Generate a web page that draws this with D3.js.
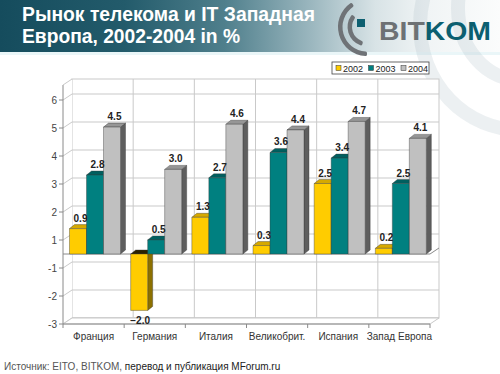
<!DOCTYPE html>
<html><head><meta charset="utf-8">
<script src="https://cdn.jsdelivr.net/npm/d3@7"></script>
<style>html,body{margin:0;padding:0;background:#fff;}svg{display:block;font-family:"Liberation Sans",Arial,sans-serif;}</style>
</head><body>
<script>
const categories = ["Франция","Германия","Италия","Великобрит.","Испания","Запад Европа"];
const seriesNames = ["2002","2003","2004"];
const values2002 = [0.9,-2.0,1.3,0.3,2.5,0.2];
const values2003 = [2.8,0.5,2.7,3.6,3.4,2.5];
const values2004 = [4.5,3.0,4.6,4.4,4.7,4.1];
const tickLabels = ["6","5","4","3","2","1","-1","-2","-3"];
const titleLines = ["Рынок телекома и IT Западная","Европа, 2002-2004 in %"];
const sourceParts = ["Источник: EITO, BITKOM, ","перевод и публикация MForum.ru"];

const W=500,H=374;
const svg=d3.select("body").append("svg").attr("width",W).attr("height",H);
const defs=svg.append("defs");
const g1=defs.append("linearGradient").attr("id","ban").attr("x1","0").attr("x2","1").attr("y1","0").attr("y2","0");
[["0%","#154c5d"],["25%","#235b6b"],["45%","#4f7f8c"],["62%","#9ab6be"],["75%","#d8e3e6"],["85%","#f0f4f5"],["100%","#fbfcfc"]]
  .forEach(s=>g1.append("stop").attr("offset",s[0]).attr("stop-color",s[1]));

svg.append("rect").attr("width",W).attr("height",H).attr("fill","#fff");
svg.append("rect").attr("x",0).attr("y",0).attr("width",W).attr("height",52).attr("fill","url(#ban)");
svg.append("rect").attr("x",0).attr("y",52).attr("width",W).attr("height",3).attr("fill","#eaf6f8");

// decorative arcs
[[520,25,100,105],[520,8,62,72]].forEach(a=>{
  svg.append("ellipse").attr("cx",a[0]).attr("cy",a[1]).attr("rx",a[2]).attr("ry",a[3])
    .attr("fill","none").attr("stroke","#9fb5bd").attr("stroke-opacity",0.2).attr("stroke-width",14);
});

// title
svg.selectAll("text.title").data(titleLines).join("text").attr("class","title")
  .attr("x",22).attr("y",(d,i)=>21+i*22).attr("fill","#fff").attr("font-weight","bold")
  .attr("font-size",20).attr("textLength",(d,i)=>i===0?293:218).attr("lengthAdjust","spacingAndGlyphs").text(d=>d);

// logo
const deg=Math.PI/180;
const lg=svg.append("g").attr("transform","translate(367,27)");
const arcG=d3.arc().cornerRadius(1.5);
lg.append("path").attr("d",arcG({innerRadius:24.5,outerRadius:29,startAngle:-180*deg,endAngle:-32*deg})).attr("fill","#6f7377");
lg.append("path").attr("d",arcG({innerRadius:15,outerRadius:19.5,startAngle:-165*deg,endAngle:-50*deg})).attr("fill","#6f7377");
lg.append("rect").attr("x",-10).attr("y",-8).attr("width",8).attr("height",8).attr("fill","#0d5f70");
const bt=svg.append("text").attr("x",379).attr("y",40).attr("font-size",25).attr("font-weight","bold")
  .attr("textLength",112).attr("lengthAdjust","spacingAndGlyphs");
bt.append("tspan").attr("fill","#6d7174").text("BIT");
bt.append("tspan").attr("fill","#0c5f70").text("KOM");

// geometry
const X0=63,X1=430,DX=9,DY=-6;
const x0=d3.scaleBand().domain(categories).range([X0,X1]).paddingInner(0).paddingOuter(0);
const x1=d3.scaleBand().domain(seriesNames).range([6.5,6.5+51]);
const y=d3.scaleLinear().domain([-3,6]).range([254+3*28.2,254-6*28.2]);
const ty=d3.scalePoint().domain(tickLabels).range([100,324]);
const gridC="#c9c9c9", axisC="#8a8a8a";

// back wall
svg.append("rect").attr("x",X0+DX).attr("y",85+DY).attr("width",X1-X0).attr("height",324-85)
  .attr("fill","#fff").attr("stroke",gridC).attr("stroke-width",1);
svg.append("path").attr("d",`M${X0},85 L${X0+DX},${85+DY} L${X0+DX},${324+DY} L${X0},324 Z`).attr("fill","#fff");
tickLabels.forEach(t=>{
  const yy=ty(t);
  svg.append("line").attr("x1",X0+DX).attr("x2",X1+DX).attr("y1",yy+DY).attr("y2",yy+DY).attr("stroke",gridC);
  svg.append("line").attr("x1",X0).attr("x2",X0+DX).attr("y1",yy).attr("y2",yy+DY).attr("stroke",gridC);
});
categories.forEach((c,i)=>{ if(i>0){ const xx=x0(c)+DX;
  svg.append("line").attr("x1",xx).attr("x2",xx).attr("y1",85+DY).attr("y2",324+DY).attr("stroke",gridC);}});
svg.append("path").attr("d",`M${X0},324 L${X1},324 L${X1+DX},${324+DY} L${X0+DX},${324+DY} Z`)
  .attr("fill","#fff").attr("stroke",gridC);
svg.append("line").attr("x1",X0).attr("x2",X1).attr("y1",324).attr("y2",324).attr("stroke",axisC);
[...categories.map(c=>x0(c)),X1].forEach(xx=>{
  svg.append("line").attr("x1",xx).attr("x2",xx).attr("y1",324).attr("y2",328).attr("stroke",axisC);
});
svg.append("line").attr("x1",X0).attr("x2",X0).attr("y1",85).attr("y2",324).attr("stroke",axisC);
svg.append("line").attr("x1",X0).attr("x2",X0+DX).attr("y1",85).attr("y2",85+DY).attr("stroke",gridC);
svg.selectAll("line.tk").data(tickLabels).join("line").attr("class","tk")
  .attr("x1",X0-4).attr("x2",X0).attr("y1",d=>ty(d)).attr("y2",d=>ty(d)).attr("stroke",axisC);
svg.selectAll("text.yl").data(tickLabels).join("text").attr("class","yl")
  .attr("x",X0-6).attr("y",d=>ty(d)+3.5).attr("text-anchor","end").attr("font-size",10).attr("fill","#444").text(d=>d);
svg.append("path").attr("d",`M${X0},${y(0)} L${X1},${y(0)} L${X1+DX},${y(0)+DY}`)
  .attr("fill","none").attr("stroke",axisC);

// bars
const colors=[
  {front:"#ffcc00",top:"#d6a900",side:"#8c7000",under:"#2a2200"},
  {front:"#008080",top:"#005f5f",side:"#004545",under:"#002828"},
  {front:"#c0c0c0",top:"#969696",side:"#5e5e5e",under:"#333"}];
const series=[values2002,values2003,values2004];
const bdx=5,bdy=-4,bw=17;
const bars=[];
categories.forEach((c,ci)=>seriesNames.forEach((s,si)=>bars.push({c,si,v:series[si][ci]})));
const bg=svg.append("g");
bars.forEach(b=>{
  const xl=x0(b.c)+x1(seriesNames[b.si]);
  const xr=xl+bw;
  const col=colors[b.si];
  const yt=Math.min(y(b.v),y(0)), yb=Math.max(y(b.v),y(0));
  const ap=(p,f)=>bg.append("path").attr("d",p).attr("fill",f).attr("stroke","#3a3a3a").attr("stroke-width",0.4).attr("stroke-linejoin","round");
  ap(`M${xr},${yt} L${xr+bdx},${yt+bdy} L${xr+bdx},${yb+bdy} L${xr},${yb} Z`,col.side);
  ap(`M${xl},${yt} L${xl+bdx},${yt+bdy} L${xr+bdx},${yt+bdy} L${xr},${yt} Z`, b.v<0?col.under:col.top);
  ap(`M${xl},${yt} L${xr},${yt} L${xr},${yb} L${xl},${yb} Z`,col.front);
});
const fmt=d3.format(".1f");
svg.selectAll("text.vl").data(bars).join("text").attr("class","vl")
  .attr("x",d=>x0(d.c)+x1(seriesNames[d.si])+bw/2+(d.v<0?1:2.5))
  .attr("y",d=>d.v<0?y(d.v)+14:y(d.v)-7)
  .attr("text-anchor","middle").attr("font-size",10).attr("font-weight","bold").attr("fill","#222")
  .text(d=>fmt(d.v));

svg.selectAll("text.cl").data(categories).join("text").attr("class","cl")
  .attr("x",d=>x0(d)+x0.bandwidth()/2).attr("y",340).attr("text-anchor","middle")
  .attr("font-size",10).attr("fill","#333").text(d=>d);

// legend
const lgd=svg.append("g");
lgd.append("rect").attr("x",332).attr("y",62).attr("width",97).attr("height",12).attr("fill","#fff").attr("stroke","#444").attr("stroke-width",0.8);
const lx=d3.scalePoint().domain(seriesNames).range([336,401]);
seriesNames.forEach((s,i)=>{
  lgd.append("rect").attr("x",lx(s)).attr("y",65.5).attr("width",5).attr("height",5).attr("fill",colors[i].front).attr("stroke","#333").attr("stroke-width",0.5);
  lgd.append("text").attr("x",lx(s)+7).attr("y",72).attr("font-size",9.5).attr("fill","#222").attr("textLength",20).attr("lengthAdjust","spacingAndGlyphs").text(s);
});

const src=svg.append("text").attr("x",4).attr("y",370).attr("font-size",10).attr("fill","#333");
src.append("tspan").attr("fill","#555").text(sourceParts[0]);
src.append("tspan").attr("fill","#222").text(sourceParts[1]);
</script>
</body></html>
